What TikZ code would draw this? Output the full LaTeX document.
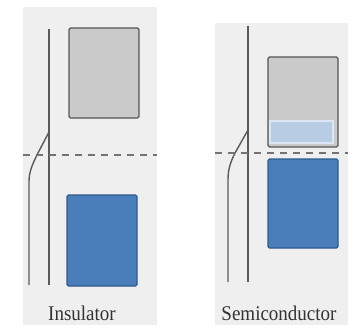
\documentclass[tikz,border=0pt]{standalone}
\usepackage{fontspec}
\setmainfont{Liberation Serif}
\definecolor{panelbg}{HTML}{EFEFEF}
\definecolor{linegray}{HTML}{5A5A5A}
\definecolor{boxgray}{HTML}{CACACA}
\definecolor{boxedge}{HTML}{555555}
\definecolor{bandblue}{HTML}{4A7EBB}
\definecolor{bandedge}{HTML}{2E5A8E}
\definecolor{lightband}{HTML}{B8CCE4}
\definecolor{lightedge}{HTML}{DDE7F3}
\definecolor{textgray}{HTML}{333333}
\tikzset{
  panel/.style={fill=panelbg, draw=none},
  curve/.style={draw=linegray, line width=1.4pt},
  level/.style={draw=linegray!85, line width=1.5pt, dash pattern=on 7pt off 6pt},
  grayband/.style={fill=boxgray, draw=boxedge, line width=1.4pt, rounded corners=1.5pt},
  blueband/.style={fill=bandblue, draw=bandedge, line width=1.4pt, rounded corners=1.5pt},
  lightbandbox/.style={fill=lightband, draw=lightedge, line width=1.5pt},
  caption/.style={font=\fontsize{19}{19}\selectfont, text=textgray, inner sep=0pt, yscale=1.1}
}
\begin{document}
\begin{tikzpicture}[x=1pt, y=-1pt]
\useasboundingbox (0,0) rectangle (348,327);
% panels
\path[panel] (23,7) rectangle (157,325);
\path[panel] (215,23) rectangle (348,325);
% left panel
\coordinate (lvt) at (49,29);
\coordinate (lvb) at (49,285);
\coordinate (ljoin) at (49,132);
\coordinate (lcb) at (29,285);
\draw[curve] (lvt) -- (lvb);
\draw[curve] (lcb) -- (29,182) .. controls (29,172) and (32,165) .. (38,153) -- (ljoin);
\coordinate (ldl) at (23,155);
\coordinate (ldr) at (157,155);
\draw[level] (ldl) -- (ldr);
\node[grayband, minimum width=70pt, minimum height=90pt, inner sep=0pt] (lcond) at (104,73) {};
\node[blueband, minimum width=70pt, minimum height=91pt, inner sep=0pt] (lval) at (102,240.5) {};
\node[caption] (lcap) at (82,313) {Insulator};
% right panel
\coordinate (rvt) at (248,26);
\coordinate (rvb) at (248,282);
\coordinate (rjoin) at (248,130);
\coordinate (rcb) at (228,282);
\draw[curve] (rvt) -- (rvb);
\draw[curve] (rcb) -- (228,180) .. controls (228,170) and (230,163) .. (235,153) -- (rjoin);
\coordinate (rdl) at (215,153);
\coordinate (rdr) at (348,153);
\draw[level] (rdl) -- (rdr);
\node[grayband, minimum width=70pt, minimum height=90pt, inner sep=0pt] (rcond) at (303,102) {};
\node[lightbandbox, minimum width=63pt, minimum height=22pt, inner sep=0pt] (rdonor) at (301.5,132) {};
\node[blueband, minimum width=70pt, minimum height=89pt, inner sep=0pt] (rval) at (303,203.5) {};
\node[caption] (rcap) at (279,313) {Semiconductor};
\end{tikzpicture}
\end{document}
